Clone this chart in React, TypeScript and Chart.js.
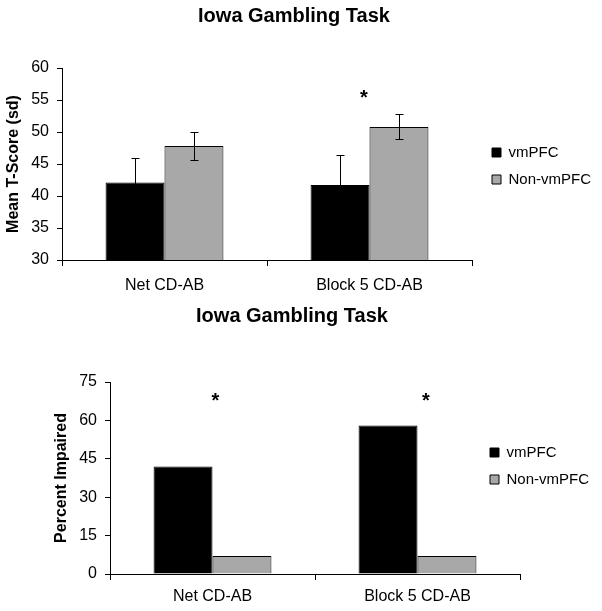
import React, { useEffect, useRef } from 'react';
import { Chart, registerables } from 'chart.js';

Chart.register(...registerables);

const FONT = '"Liberation Sans", Arial, Helvetica, sans-serif';
Chart.defaults.font.family = FONT;

// ---- data ----
const categories = ['Net CD-AB', 'Block 5 CD-AB'];
const seriesNames = ['vmPFC', 'Non-vmPFC'];

// Chart 1: Mean T-Score (sd)
const tScoreVm = [42.1, 41.7];
const tScoreNon = [47.8, 50.8];
const tScoreVmSd = [3.9, 4.7];
const tScoreNonSd = [2.2, 1.95];
const tScoreAxis = [30, 60, 5]; // min, max, step
const tScoreStars = [[0.973, 56]]; // [category position, value]

// Chart 2: Percent Impaired
const pctVm = [42, 58];
const pctNon = [7, 7];
const pctAxis = [0, 75, 15];
const pctStars = [[0.014, 69], [1.041, 69]];

const COLORS = ['#000000', '#a8a8a8'];

type Cfg = {
  title: string;
  yTitle: string;
  vm: number[];
  non: number[];
  vmErr?: number[];
  nonErr?: number[];
  axis: number[];
  stars: number[][];
  padL: number;
  padR: number;
  legendMaxW: number;
  yWidth: number;
  titlePadBottom: number;
  xHeight: number;
  xPad: number;
  legendLeft: number;
  legendTop: number;
};

function buildChart(canvas: HTMLCanvasElement, c: Cfg) {
  const overlay = {
    id: 'overlay',
    afterLayout(chart: any) {
      const lg = chart.legend;
      if (lg) {
        const w = 124;
        const h = 80;
        lg.width = w;
        lg.height = h;
        lg.left = c.legendLeft;
        lg.right = c.legendLeft + w;
        lg.top = c.legendTop;
        lg.bottom = c.legendTop + h;
      }
    },
    afterDatasetsDraw(chart: any) {
      const ctx = chart.ctx as CanvasRenderingContext2D;
      const ys = chart.scales.y;
      const xs = chart.scales.x;
      const errs = [c.vmErr, c.nonErr];
      ctx.save();
      ctx.strokeStyle = '#000';
      ctx.lineWidth = 1;
      errs.forEach((err, d) => {
        if (!err) return;
        const meta = chart.getDatasetMeta(d);
        const vals = d === 0 ? c.vm : c.non;
        meta.data.forEach((bar: any, i: number) => {
          const x = Math.round(bar.x) + 0.5;
          const yt = Math.round(ys.getPixelForValue(vals[i] + err[i])) + 0.5;
          const yb = Math.round(ys.getPixelForValue(vals[i] - err[i])) + 0.5;
          ctx.beginPath();
          ctx.moveTo(x, yt);
          ctx.lineTo(x, yb);
          ctx.moveTo(x - 4, yt);
          ctx.lineTo(x + 4, yt);
          ctx.moveTo(x - 4, yb);
          ctx.lineTo(x + 4, yb);
          ctx.stroke();
        });
      });
      ctx.fillStyle = '#000';
      ctx.font = `bold 20px ${FONT}`;
      ctx.textAlign = 'center';
      ctx.textBaseline = 'alphabetic';
      const m = ctx.measureText('*');
      c.stars.forEach(([pos, val]) => {
        const cx = xs.getPixelForValue(pos);
        const cy = ys.getPixelForValue(val);
        const base = cy + (m.actualBoundingBoxAscent - m.actualBoundingBoxDescent) / 2;
        ctx.fillText('*', cx, base);
      });
      ctx.restore();
    },
  };

  return new Chart(canvas, {
    type: 'bar',
    data: {
      labels: categories,
      datasets: [
        {
          label: seriesNames[0],
          data: c.vm,
          backgroundColor: COLORS[0],
          borderColor: '#000',
          borderWidth: 1,
          barPercentage: 1,
          categoryPercentage: 0.575,
        },
        {
          label: seriesNames[1],
          data: c.non,
          backgroundColor: COLORS[1],
          borderColor: '#000',
          borderWidth: 1,
          barPercentage: 1,
          categoryPercentage: 0.575,
        },
      ],
    },
    options: {
      animation: false,
      responsive: false,
      events: [],
      layout: { padding: { left: c.padL, right: c.padR, top: 0, bottom: 0 } },
      plugins: {
        tooltip: { enabled: false },
        title: {
          display: true,
          text: c.title,
          color: '#000',
          font: { size: 20, weight: 'bold', family: FONT },
          padding: { top: 4, bottom: c.titlePadBottom },
        },
        legend: {
          display: true,
          position: 'right',
          align: 'start',
          maxWidth: c.legendMaxW,
          labels: {
            color: '#000',
            font: { size: 15, family: FONT },
            boxWidth: 9,
            boxHeight: 9,
            padding: 12,
          },
        },
      },
      scales: {
        x: {
          offset: true,
          grid: {
            display: true,
            drawOnChartArea: false,
            drawTicks: true,
            tickLength: 6,
            color: '#000',
            offset: true,
          },
          border: { display: true, color: '#000', width: 1 },
          ticks: { color: '#000', font: { size: 16, family: FONT }, padding: c.xPad, maxRotation: 0 },
          afterFit: (s: any) => {
            s.height = c.xHeight;
          },
        },
        y: {
          min: c.axis[0],
          max: c.axis[1],
          grid: {
            display: true,
            drawOnChartArea: false,
            drawTicks: true,
            tickLength: 5,
            color: '#000',
          },
          border: { display: true, color: '#000', width: 1 },
          ticks: { stepSize: c.axis[2], color: '#000', font: { size: 16, family: FONT }, padding: 8 },
          title: {
            display: true,
            text: c.yTitle,
            color: '#000',
            font: { size: 16, weight: 'bold', family: FONT },
            padding: { top: 4, bottom: 0 },
          },
          afterFit: (s: any) => {
            s.width = c.yWidth;
          },
        },
      },
    },
    plugins: [overlay],
  } as any);
}

export default function App() {
  const topRef = useRef<HTMLCanvasElement>(null);
  const botRef = useRef<HTMLCanvasElement>(null);

  useEffect(() => {
    const a = buildChart(topRef.current!, {
      title: 'Iowa Gambling Task',
      yTitle: 'Mean T-Score (sd)',
      vm: tScoreVm,
      non: tScoreNon,
      vmErr: tScoreVmSd,
      nonErr: tScoreNonSd,
      axis: tScoreAxis,
      stars: tScoreStars,
      padL: 0,
      padR: 14,
      legendMaxW: 116,
      yWidth: 62,
      titlePadBottom: 40,
      xHeight: 40,
      xPad: 10,
      legendLeft: 480,
      legendTop: 133,
    });
    const b = buildChart(botRef.current!, {
      title: 'Iowa Gambling Task',
      yTitle: 'Percent Impaired',
      vm: pctVm,
      non: pctNon,
      axis: pctAxis,
      stars: pctStars,
      padL: 48,
      padR: 66,
      legendMaxW: 16,
      yWidth: 62,
      titlePadBottom: 54,
      xHeight: 37,
      xPad: 7,
      legendLeft: 478,
      legendTop: 133,
    });
    return () => {
      a.destroy();
      b.destroy();
    };
  }, []);

  return (
    <div style={{ position: 'absolute', left: 0, top: 0, width: 602, height: 611, background: '#fff' }}>
      <canvas
        ref={topRef}
        width={602}
        height={300}
        style={{ position: 'absolute', left: 0, top: 0, width: 602, height: 300 }}
      />
      <canvas
        ref={botRef}
        width={602}
        height={311}
        style={{ position: 'absolute', left: 0, top: 300, width: 602, height: 311 }}
      />
    </div>
  );
}
